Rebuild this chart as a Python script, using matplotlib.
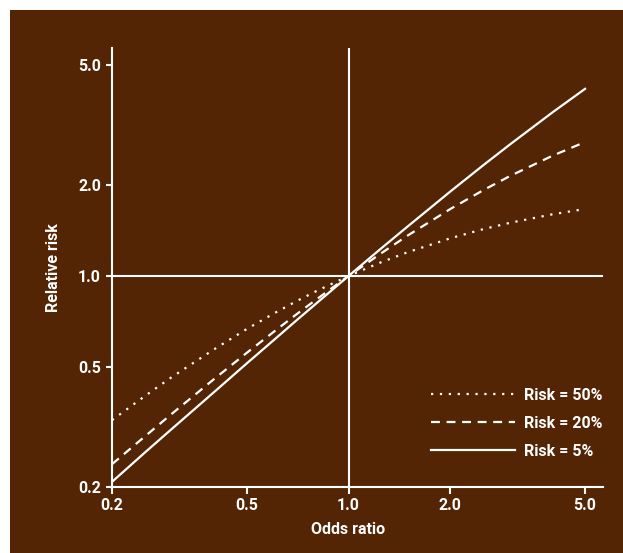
import matplotlib
matplotlib.use("Agg")
import matplotlib.pyplot as plt
from matplotlib.patches import Rectangle

# odds ratio values read along the x axis
odds_ratio = [0.2, 0.25, 0.3, 0.4, 0.5, 0.6, 0.7, 0.8, 1.0, 1.25, 1.5, 2.0, 2.5, 3.0, 4.0, 5.0]
# relative risk
rr_50 = [0.333, 0.400, 0.462, 0.571, 0.667, 0.750, 0.824, 0.889, 1.0, 1.111, 1.200, 1.333, 1.429, 1.500, 1.600, 1.667]
rr_20 = [0.238, 0.294, 0.349, 0.455, 0.556, 0.652, 0.745, 0.833, 1.0, 1.190, 1.364, 1.667, 1.923, 2.143, 2.500, 2.778]
rr_5 = [0.208, 0.260, 0.311, 0.412, 0.513, 0.612, 0.711, 0.808, 1.0, 1.235, 1.463, 1.905, 2.326, 2.727, 3.478, 4.167]

ticks = [0.2, 0.5, 1.0, 2.0, 5.0]
tick_labels = ["0.2", "0.5", "1.0", "2.0", "5.0"]

bg = "#532504"
fg = "white"
fs = 11.5

plt.rcParams["font.family"] = ["Roboto", "DejaVu Sans"]
plt.rcParams["font.weight"] = "bold"

fig = plt.figure(figsize=(6.23, 5.53), dpi=100, facecolor="white")
# brown panel, leaving a thin white margin on the top and left
fig.add_artist(Rectangle((10 / 623, 0), 1, 1 - 10 / 553, transform=fig.transFigure,
                         facecolor=bg, edgecolor="none", zorder=-10))

ax = fig.add_axes([112 / 623, 1 - 487 / 553, 491 / 623, 439 / 553])
ax.set_facecolor("none")
ax.set_xscale("log")
ax.set_yscale("log")
ax.set_xlim(0.2, 5.65)
ax.set_ylim(0.2, 5.69)

ax.axvline(1.0, color=fg, lw=1.5)
ax.axhline(1.0, color=fg, lw=1.5)

ax.plot(odds_ratio, rr_50, color=fg, lw=1.6, ls=(0, (1, 3)), label="Risk = 50%")
ax.plot(odds_ratio, rr_20, color=fg, lw=1.6, ls=(0, (4, 3)), label="Risk = 20%")
ax.plot(odds_ratio, rr_5, color=fg, lw=1.6, ls="-", label="Risk = 5%")

for s in ["top", "right"]:
    ax.spines[s].set_visible(False)
for s in ["left", "bottom"]:
    ax.spines[s].set_color(fg)
    ax.spines[s].set_linewidth(1.5)

ax.set_xticks(ticks)
ax.set_xticklabels(tick_labels)
ax.set_yticks(ticks)
ax.set_yticklabels(tick_labels)
ax.minorticks_off()
ax.tick_params(axis="x", colors=fg, length=5, width=1.5, pad=3, labelsize=fs)
ax.tick_params(axis="y", colors=fg, length=4.5, width=1.5, pad=3.5, labelsize=fs)
for lab in ax.get_xticklabels() + ax.get_yticklabels():
    lab.set_fontweight("bold")

ax.set_xlabel("Odds ratio", color=fg, fontsize=fs, fontweight="bold")
ax.set_ylabel("Relative risk", color=fg, fontsize=fs, fontweight="bold")
ax.xaxis.set_label_coords(0.4807, -0.080)
ax.yaxis.set_label_coords(-0.104, 0.5)

leg = ax.legend(loc="upper left", bbox_to_anchor=(0.6497, 0.226), frameon=False,
                handlelength=5.25, handletextpad=0.56, labelspacing=0.82,
                borderpad=0, borderaxespad=0, fontsize=fs)
for t in leg.get_texts():
    t.set_color(fg)
    t.set_fontweight("bold")

fig.savefig("out.png", dpi=100, facecolor=fig.get_facecolor())
